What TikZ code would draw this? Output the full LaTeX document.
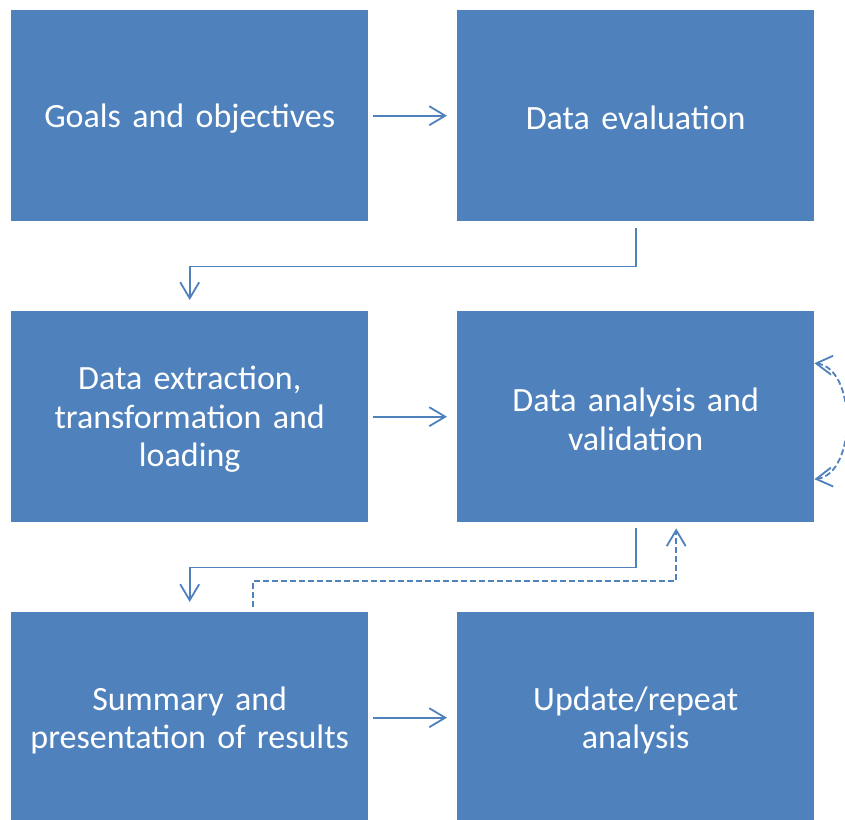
\documentclass[tikz,border=0pt]{standalone}
\usepackage{fontspec}
\setmainfont{Carlito}
\usetikzlibrary{arrows.meta}
\definecolor{boxblue}{HTML}{4F81BD}
\begin{document}
\begin{tikzpicture}[x=1pt,y=-1pt,
  stepbox/.style={draw=none,fill=boxblue,anchor=north west,
    minimum width=357pt,minimum height=211pt,inner sep=0pt},
  steptext/.style={text=white,text width=345pt,align=center,inner sep=0pt,
    yshift=-2.5pt,font=\fontsize{34pt}{38.5pt}\selectfont},
  conn/.style={draw=boxblue,line width=1.8pt,-{Straight Barb[length=16pt,width=19pt,line width=1.8pt]}},
  dconn/.style={conn,dash pattern=on 6pt off 3pt}]
\useasboundingbox (0,0) rectangle (845,819);
\begin{scope}
\clip (0,0) rectangle (845,819);
\node[stepbox] (g) at (11,10)  {};
\node[stepbox] (e) at (457,10) {};
\node[stepbox] (x) at (11,311) {};
\node[stepbox] (a) at (457,311) {};
\node[stepbox] (s) at (11,612) {};
\node[stepbox] (u) at (457,612) {};
\end{scope}
\node[steptext] (gt) at (g.center) {Goals and objectives};
\node[steptext] (et) at (e.center) {Data evaluation};
\node[steptext] (xt) at (x.center) {Data extraction,\\transformation and\\loading};
\node[steptext] (at) at (a.center) {Data analysis and\\validation};
\node[steptext] (st) at (s.center) {Summary and\\presentation of results};
\node[steptext] (ut) at (u.center) {Update/repeat\\analysis};
% straight links between neighbours
\draw[conn] ([xshift=5pt]g.east) -- ([xshift=-10pt]e.west);
\draw[conn] ([xshift=5pt]x.east) -- ([xshift=-10pt]a.west);
\draw[conn] ([xshift=5pt]s.east) -- ([xshift=-10pt]u.west);
% elbow links down to the next row
\draw[conn] ([yshift=-7pt]e.south) -- ++(0,38) -| ([yshift=11pt]x.north);
\draw[conn] ([yshift=-6pt]a.south) -- ++(0,39) -| ([yshift=10pt]s.north);
% feedback from results back to analysis
\draw[dconn] ([xshift=63.5pt,yshift=5pt]s.north) -- ++(0,-26) -| ([xshift=40.5pt,yshift=-6pt]a.south);
% iteration loop on the analysis step
\draw[dconn,{Straight Barb[length=16pt,width=19pt,line width=1.8pt]}-{Straight Barb[length=16pt,width=19pt,line width=1.8pt]}]
  ([yshift=53.5pt]a.east) .. controls (857,368) and (857,474) .. ([yshift=-62.5pt]a.east);
\end{tikzpicture}
\end{document}
